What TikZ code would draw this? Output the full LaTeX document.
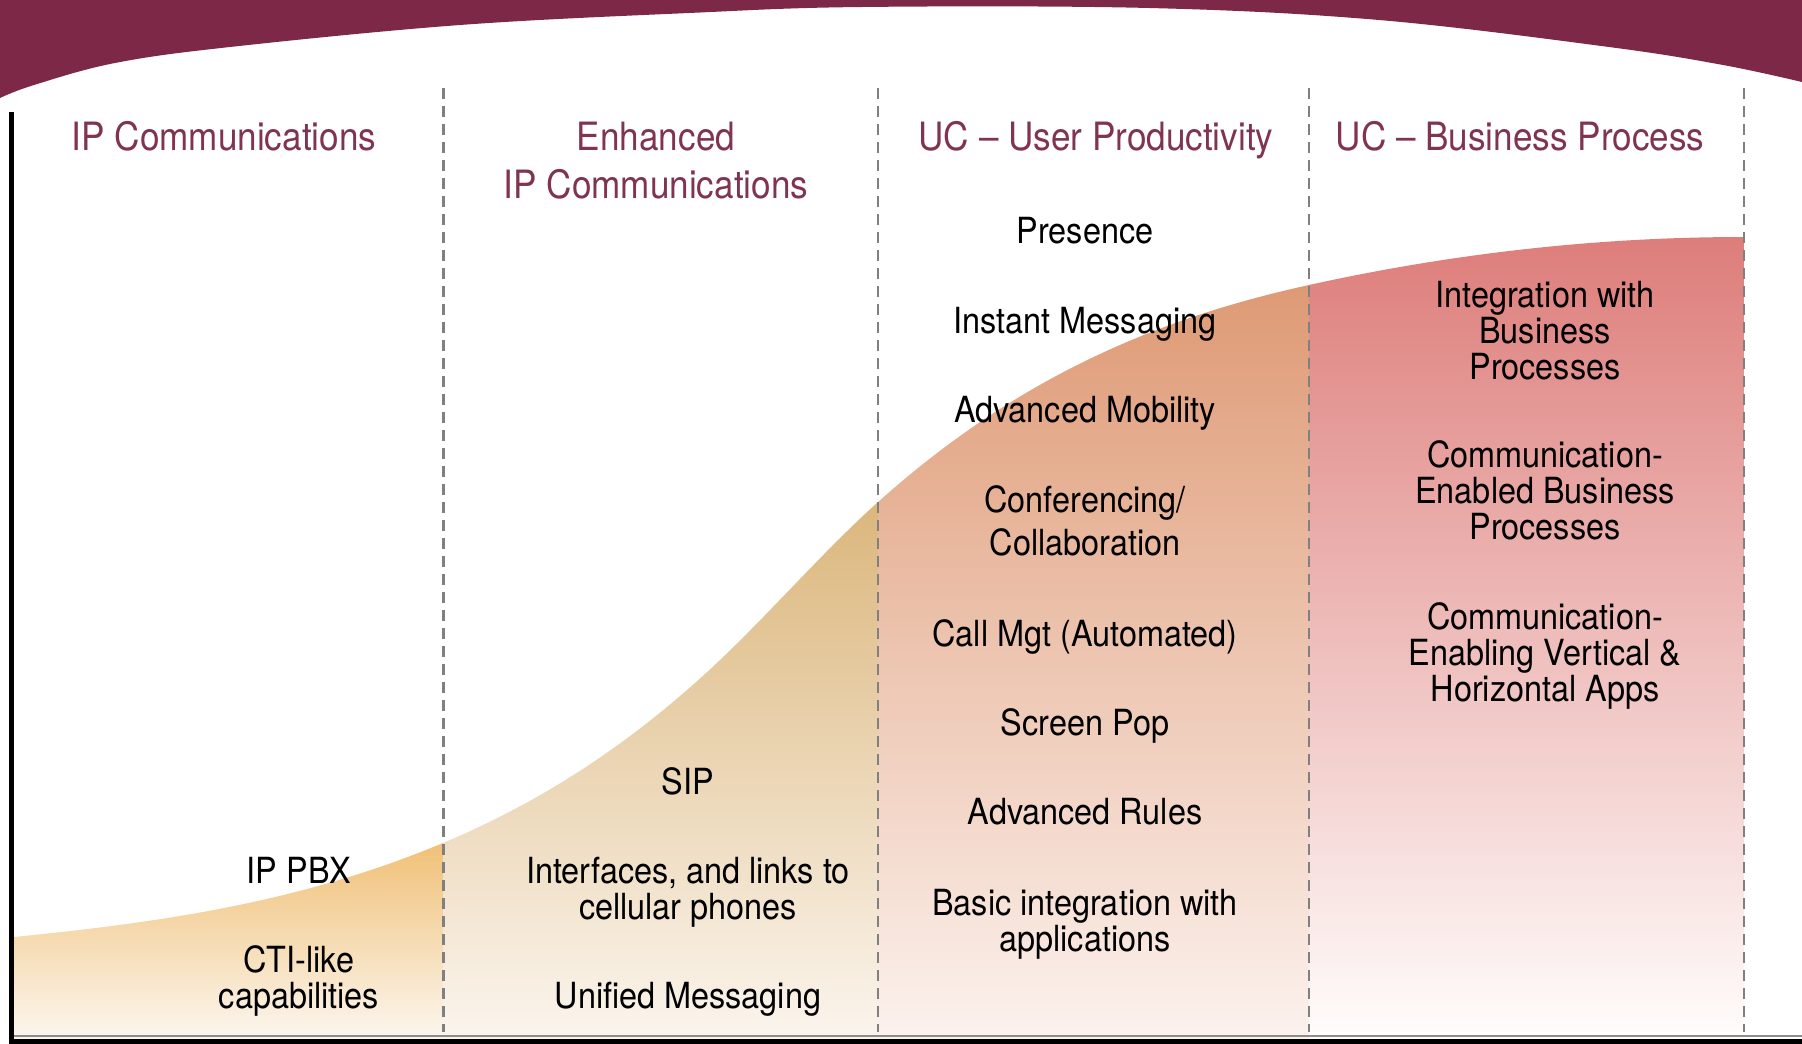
\documentclass[tikz,border=0pt]{standalone}
\usepackage{fontspec}
\setmainfont{TeX Gyre Heros}[FakeStretch=0.9]
\definecolor{bannerc}{RGB}{125,40,70}
\definecolor{titlec}{RGB}{128,52,82}
\definecolor{dashc}{RGB}{128,128,128}
\definecolor{cOneTop}{RGB}{240,190,114}
\definecolor{cOneBot}{RGB}{252,247,240}
\definecolor{cTwoTop}{RGB}{219,182,123}
\definecolor{cTwoBot}{RGB}{251,245,238}
\definecolor{cThreeTop}{RGB}{222,153,116}
\definecolor{cThreeBot}{RGB}{252,242,238}
\definecolor{cFourTop}{RGB}{221,125,122}
\definecolor{cFourBot}{RGB}{255,253,252}
\newcommand{\myScurveClip}{\clip (14,1040) -- (14,937)
  .. controls (157,922.7) and (300,903) .. (443,843)
  .. controls (535.3,804.2) and (627.7,747.7) .. (720,660)
  .. controls (772.3,610.3) and (824.7,550) .. (877,503)
  .. controls (1021,373.4) and (1165,316.7) .. (1309,285)
  .. controls (1454,253) and (1599,237) .. (1744,237)
  -- (1744,1040) -- cycle;}
\tikzset{
  ttl/.style={font=\fontsize{39}{48}\selectfont, text=titlec, align=center, anchor=base, inner sep=0pt},
  itm/.style={font=\fontsize{36}{36}\selectfont, text=black, align=center, anchor=base, inner sep=0pt},
  divline/.style={draw=dashc, line width=2.2pt, dash pattern=on 11pt off 7pt},
  axisline/.style={draw=black, line width=5pt}
}
\begin{document}
\begin{tikzpicture}[x=1pt, y=-1pt]
\useasboundingbox (0,0) rectangle (1802,1044);
\fill[white] (0,0) rectangle (1802,1044);
% banner
\fill[bannerc] (0,0) -- (0,98) -- plot[smooth, tension=0.6] coordinates {(0,98) (34,85) (115,63) (230,47) (460,25) (689,13) (862,7) (1149,8) (1379,20) (1609,47) (1723,65) (1802,82)} -- (1802,0) -- cycle;
% S-curve filled columns
\begin{scope}
\myScurveClip
\shade[top color=cOneTop, bottom color=cOneBot] (10,835) rectangle (443.5,1040);
\shade[top color=cTwoTop, bottom color=cTwoBot] (443.5,498) rectangle (878,1040);
\shade[top color=cThreeTop, bottom color=cThreeBot] (878,280) rectangle (1309,1040);
\shade[top color=cFourTop, bottom color=cFourBot] (1309,235) rectangle (1744,1040);
\end{scope}
% column dividers
\coordinate (d1t) at (443.5,88); \coordinate (d1b) at (443.5,1032);
\coordinate (d2t) at (878,88);   \coordinate (d2b) at (878,1032);
\coordinate (d3t) at (1309,88);  \coordinate (d3b) at (1309,1032);
\coordinate (d4t) at (1744,88);  \coordinate (d4b) at (1744,1032);
\draw[divline] (d1t) -- (d1b);
\draw[divline] (d2t) -- (d2b);
\draw[divline] (d3t) -- (d3b);
\draw[divline] (d4t) -- (d4b);
% axes
\coordinate (ax0) at (11.5,1041);
\coordinate (axT) at (11.5,112);
\coordinate (axR) at (1802,1041);
\draw[draw=black!45, line width=2pt] (14,1036) -- (1802,1036);
\draw[axisline] (axT) -- (ax0) -- (axR);
% titles
\node[ttl] (t1) at (224,150) {IP Communications};
\node[ttl] (t2) at (656,198) {Enhanced\\IP Communications};
\node[ttl] (t3) at (1096,150) {UC – User Productivity};
\node[ttl] (t4) at (1520,150) {UC – Business Process};
% column 1
\node[itm] (ippbx) at (299,883) {IP PBX};
\node[itm] (cti) at (299,1008) {CTI-like\\capabilities};
% column 2
\node[itm] (sip) at (688,794) {SIP};
\node[itm] (intf) at (688,919) {Interfaces, and links to\\cellular phones};
\node[itm] (um) at (688,1008) {Unified Messaging};
% column 3
\node[itm] (pres) at (1085,243) {Presence};
\node[itm] (im) at (1085,333) {Instant Messaging};
\node[itm] (mob) at (1085,422) {Advanced Mobility};
\node[itm] (conf) at (1085,555) {Conferencing/\\[7pt]Collaboration};
\node[itm] (call) at (1085,646) {Call Mgt (Automated)};
\node[itm] (pop) at (1085,735) {Screen Pop};
\node[itm] (rules) at (1085,824) {Advanced Rules};
\node[itm] (basic) at (1085,951) {Basic integration with\\applications};
% column 4
\node[itm] (integ) at (1545,379) {Integration with\\Business\\Processes};
\node[itm] (ceb) at (1545,539) {Communication-\\Enabled Business\\Processes};
\node[itm] (cev) at (1545,701) {Communication-\\Enabling Vertical \&\\Horizontal Apps};
\end{tikzpicture}
\end{document}
